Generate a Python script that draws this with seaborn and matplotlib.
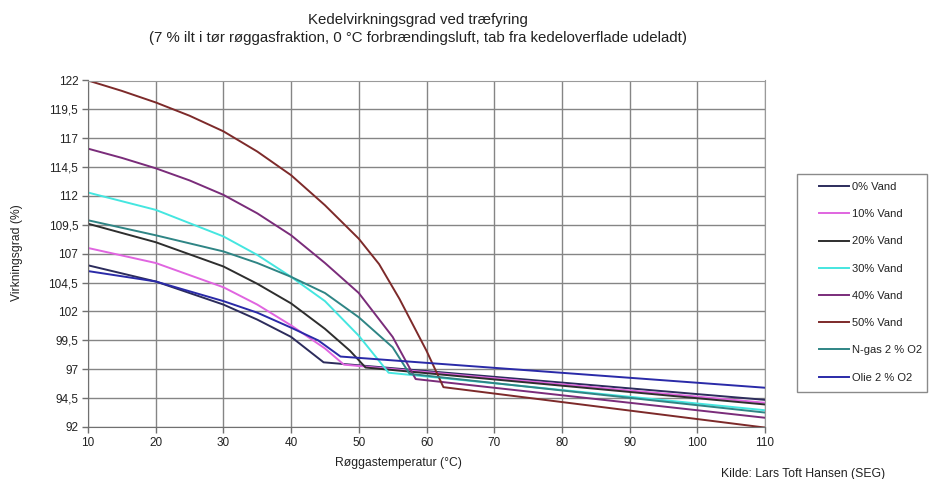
import matplotlib
matplotlib.use("Agg")
import matplotlib.pyplot as plt
import pandas as pd
import seaborn as sns
from matplotlib.patches import Rectangle

# ---------------- data ----------------
series_names = ["0% Vand", "10% Vand", "20% Vand", "30% Vand",
                "40% Vand", "50% Vand", "N-gas 2 % O2", "Olie 2 % O2"]

x_vand0 = [10, 20, 30, 35, 40, 44.8, 110]
y_vand0 = [106.0, 104.6, 102.6, 101.3, 99.8, 97.6, 94.35]

x_vand10 = [10, 20, 30, 35, 40, 45, 47.8, 110]
y_vand10 = [107.5, 106.2, 104.1, 102.6, 100.8, 98.8, 97.4, 94.1]

x_vand20 = [10, 20, 30, 35, 40, 45, 48.7, 51.0, 110]
y_vand20 = [109.6, 108.0, 105.9, 104.4, 102.7, 100.5, 98.6, 97.15, 93.95]

x_vand30 = [10, 20, 30, 35, 40, 45, 50, 54.4, 110]
y_vand30 = [112.3, 110.8, 108.5, 106.9, 105.0, 102.9, 99.9, 96.7, 93.45]

x_vand40 = [10, 15, 20, 25, 30, 35, 40, 45, 50, 55, 58.4, 110]
y_vand40 = [116.1, 115.3, 114.4, 113.35, 112.1, 110.5, 108.6, 106.2, 103.6,
            99.8, 96.15, 92.8]

x_vand50 = [10, 15, 20, 25, 30, 35, 40, 45, 50, 53, 56, 60, 62.5, 110]
y_vand50 = [122.0, 121.1, 120.1, 118.95, 117.6, 115.85, 113.8, 111.2, 108.3,
            106.1, 103.1, 98.6, 95.45, 91.95]

x_ngas = [10, 20, 30, 35, 40, 45, 50, 55, 57.5, 110]
y_ngas = [109.9, 108.6, 107.2, 106.2, 105.0, 103.6, 101.5, 98.9, 96.6, 93.25]

x_olie = [10, 20, 30, 35, 40, 44, 47.3, 110]
y_olie = [105.5, 104.6, 102.9, 101.9, 100.6, 99.5, 98.1, 95.4]

series_x = [x_vand0, x_vand10, x_vand20, x_vand30, x_vand40, x_vand50, x_ngas, x_olie]
series_y = [y_vand0, y_vand10, y_vand20, y_vand30, y_vand40, y_vand50, y_ngas, y_olie]

x_ticks = [10, 20, 30, 40, 50, 60, 70, 80, 90, 100, 110]
y_ticks = [92, 94.5, 97, 99.5, 102, 104.5, 107, 109.5, 112, 114.5, 117, 119.5, 122]
y_tick_labels = ["92", "94,5", "97", "99,5", "102", "104,5", "107", "109,5",
                 "112", "114,5", "117", "119,5", "122"]

colors = ["#2c2c5c", "#e065e0", "#2e2e2e", "#45e6e0",
          "#7a2c7a", "#7d2a2a", "#2f8585", "#2a2aa8"]

# ---------------- long table ----------------
rows = []
for name, xs, ys in zip(series_names, series_x, series_y):
    for xv, yv in zip(xs, ys):
        rows.append({"serie": name, "x": xv, "y": yv})
df = pd.DataFrame(rows)

plt.rcParams['font.family'] = ['Liberation Sans', 'DejaVu Sans']

W, H = 934, 479
fig = plt.figure(figsize=(W / 100, H / 100), dpi=100)
ax = fig.add_axes([88 / W, 1 - 427 / H, (765 - 88) / W, (427 - 80.5) / H])

sns.lineplot(data=df, x="x", y="y", hue="serie", hue_order=series_names,
             palette=dict(zip(series_names, colors)), estimator=None,
             sort=False, linewidth=1.4, ax=ax, legend=True)

ax.set_xlim(10, 110)
ax.set_ylim(92, 122)
ax.set_xticks(x_ticks)
ax.set_yticks(y_ticks)
ax.set_yticklabels(y_tick_labels)
ax.grid(True, color="#858585", linewidth=1.0)
ax.set_axisbelow(True)
ax.tick_params(axis="both", labelsize=8.5, length=4, width=1.0,
               color="#707070", pad=3, labelcolor="#222222")
for side in ["top", "right"]:
    ax.spines[side].set_color("#9a9a9a")
for side in ["left", "bottom"]:
    ax.spines[side].set_color("#707070")
ax.set_xlabel("")
ax.set_ylabel("")

# legend (frameless) + box drawn separately
handles, labels = ax.get_legend_handles_labels()
if ax.legend_:
    ax.legend_.remove()
leg = fig.legend(handles, labels, loc="upper left",
                 bbox_to_anchor=(819 / W, 1 - 182 / H),
                 bbox_transform=fig.transFigure, frameon=False,
                 fontsize=8, handlelength=2.7, handletextpad=0.25,
                 labelspacing=1.55, borderpad=0, borderaxespad=0)
for t in leg.get_texts():
    t.set_color("#222222")
for l in leg.get_lines():
    l.set_linewidth(1.4)

fig.patches.append(Rectangle((797 / W, 1 - 392 / H), 130 / W, 218 / H,
                             transform=fig.transFigure, fill=False,
                             edgecolor="#8a8a8a", linewidth=1.0))

# texts
fig.text(418 / W, 1 - 13 / H,
         "Kedelvirkningsgrad ved træfyring\n"
         "(7 % ilt i tør røggasfraktion, 0 °C forbrændingsluft, tab fra kedeloverflade udeladt)",
         ha="center", va="top", fontsize=10.8, linespacing=1.35, color="#222222")
fig.text(17 / W, 1 - 253 / H, "Virkningsgrad (%)", rotation=90,
         ha="center", va="center", fontsize=8.7, color="#222222")
fig.text(398 / W, 1 - 463 / H, "Røggastemperatur (°C)",
         ha="center", va="center", fontsize=8.7, color="#222222")
fig.text(885 / W, 1 - 474 / H, "Kilde: Lars Toft Hansen (SEG)",
         ha="right", va="center", fontsize=8.8, color="#222222")

fig.savefig("out.png", dpi=100)
